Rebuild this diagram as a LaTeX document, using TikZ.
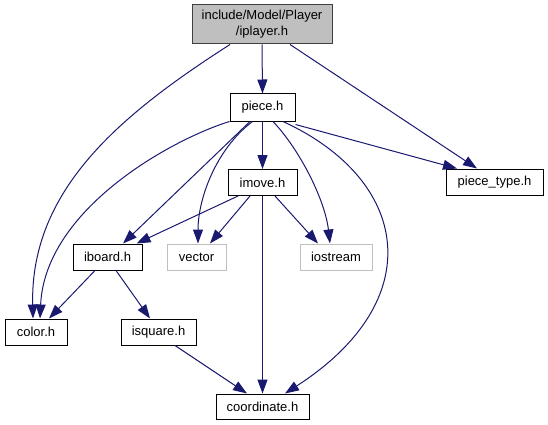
\documentclass[tikz,border=0pt]{standalone}
\usepackage{fontspec}
\setmainfont{Liberation Sans}
\usetikzlibrary{arrows.meta}
\definecolor{edgeblue}{HTML}{191970}
\definecolor{lightgr}{HTML}{BFBFBF}
\definecolor{boxborder}{HTML}{404040}
\tikzset{
  box/.style={draw=black, line width=1pt, fill=white, inner sep=0pt, font=\fontsize{13}{16}\selectfont, text=black},
  graybox/.style={box, draw=boxborder, fill=lightgr},
  extbox/.style={box, draw=lightgr},
  edge/.style={draw=edgeblue, line width=1pt, -{Triangle[length=14pt,width=10pt]}, edgeblue},
}
\begin{document}
\begin{tikzpicture}[x=1pt,y=-1pt]
\useasboundingbox (0,0) rectangle (548,425);
\node[graybox, minimum width=140pt, minimum height=39pt, align=center] (iplayer) at (262,24.5) {include/Model/Player\\/iplayer.h};
\node[box, minimum width=65pt, minimum height=27pt] (piece) at (262.5,107.5) {piece.h};
\node[box, minimum width=69pt, minimum height=26pt] (imove) at (262.5,182.5) {imove.h};
\node[box, minimum width=97pt, minimum height=26pt] (ptype) at (494.5,182) {piece\_type.h};
\node[box, minimum width=69pt, minimum height=26pt] (iboard) at (107.5,257) {iboard.h};
\node[extbox, minimum width=59pt, minimum height=26pt] (vector) at (196.5,257) {vector};
\node[extbox, minimum width=72pt, minimum height=26pt] (iostream) at (336,257) {iostream};
\node[box, minimum width=62pt, minimum height=26pt] (color) at (36,332) {color.h};
\node[box, minimum width=75pt, minimum height=26pt] (isquare) at (158.5,332) {isquare.h};
\node[box, minimum width=93pt, minimum height=25pt] (coord) at (262.5,406.5) {coordinate.h};

% iplayer
\draw[edge] ([xshift=-32pt]iplayer.south) .. controls (120,115) and (30,190) .. ([xshift=-3pt]color.north);
\draw[edge] (iplayer.south) -- (piece.north);
\draw[edge] ([xshift=28pt]iplayer.south) -- ([xshift=-17.5pt]ptype.north);

% piece
\draw[edge] (piece.south west) .. controls (170,140) and (45,210) .. ([xshift=4pt]color.north);
\draw[edge] ([xshift=-12.5pt]piece.south) -- ([xshift=15.5pt]iboard.north);
\draw[edge] ([xshift=-10pt]piece.south) .. controls (215,150) and (198,200) .. ([xshift=1.5pt]vector.north);
\draw[edge] (piece.south) -- (imove.north);
\draw[edge] ([xshift=10.5pt]piece.south) .. controls (300,150) and (325,200) .. ([xshift=-6pt]iostream.north);
\draw[edge] ([xshift=20.5pt]piece.south) .. controls (410,180) and (430,300) .. ([xshift=22.5pt]coord.north);
\draw[edge] ([yshift=-3pt]piece.south east) -- ([xshift=-37.5pt]ptype.north);

% imove
\draw[edge] ([xshift=-24.5pt]imove.south) -- ([xshift=29pt]iboard.north);
\draw[edge] ([xshift=-12.5pt]imove.south) -- ([xshift=13.5pt]vector.north);
\draw[edge] ([xshift=12.5pt]imove.south) -- ([xshift=-18pt]iostream.north);
\draw[edge] (imove.south) -- (coord.north);

% iboard
\draw[edge] ([xshift=-12.5pt]iboard.south) -- ([xshift=13pt]color.north);
\draw[edge] ([xshift=8.5pt]iboard.south) -- ([xshift=-8.5pt]isquare.north);

% isquare
\draw[edge] ([xshift=16.5pt]isquare.south) -- ([xshift=-15.5pt]coord.north);
\end{tikzpicture}
\end{document}
